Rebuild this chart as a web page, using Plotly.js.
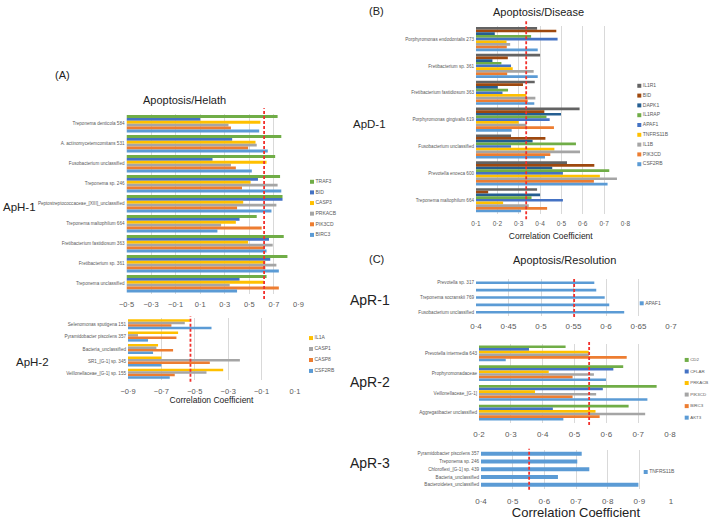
<!DOCTYPE html>
<html><head><meta charset="utf-8">
<script src="https://cdn.plot.ly/plotly-3.0.1.min.js"></script>
<style>html,body{margin:0;padding:0;background:#fff}#chart{width:709px;height:520px}</style>
</head><body><div id="chart"></div>
<script>
// ================= DATA =================
// (A) Apoptosis/Health  -- ApH-1
const aH1Taxa = ['Treponema denticola 584','A. actinomycetemcomitans 531','Fusobacterium unclassified','Treponema sp. 246','Peptostreptococcaceae_[XIII]_unclassified','Treponema maltophilum 664','Fretibacterium fastidiosum 363','Fretibacterium sp. 361','Treponema unclassified'];
const aH1Genes = ['TRAF3','BID','CASP3','PRKACB','PIK3CD','BIRC3'];
const aH1TRAF3  = [0.73, 0.76, 0.71, 0.75, 0.77, 0.56, 0.78, 0.81, 0.64];
const aH1BID    = [0.10, 0.36, 0.20, 0.57, 0.77, 0.42, 0.66, 0.67, 0.42];
const aH1CASP3  = [0.59, 0.55, 0.64, 0.51, 0.45, 0.39, 0.49, 0.63, 0.62];
const aH1PRKACB = [0.33, 0.56, 0.35, 0.73, 0.72, 0.27, 0.69, 0.72, 0.34];
const aH1PIK3CD = [0.35, 0.49, 0.39, 0.44, 0.40, 0.60, 0.62, 0.63, 0.74];
const aH1BIRC3  = [0.58, 0.65, 0.52, 0.76, 0.68, 0.24, 0.64, 0.74, 0.40];
const aH1Threshold = 0.62;
const aH1TickVals = [-0.5,-0.3,-0.1,0.1,0.3,0.5,0.7,0.9];
const aH1TickText = ['\u22120\u00b75','\u22120\u00b73','\u22120\u00b71','0\u00b71','0\u00b73','0\u00b75','0\u00b77','0\u00b79'];

// ApH-2
const aH2Taxa = ['Selenomonas sputigena 151','Pyramidobacter piscolens 357','Bacteria_unclassified','SR1_[G-1] sp. 345','Veillonellaceae_[G-1] sp. 155'];
const aH2Genes = ['IL1A','CASP1','CASP8','CSF2RB'];
const aH2IL1A   = [-0.53, -0.60, -0.72, -0.70, -0.33];
const aH2CASP1  = [-0.56, -0.84, -0.73, -0.23, -0.43];
const aH2CASP8  = [-0.64, -0.61, -0.63, -0.41, -0.62];
const aH2CSF2RB = [-0.40, -0.78, -0.75, -0.70, -0.65];
const aH2Threshold = -0.526;
const aH2TickVals = [-0.9,-0.7,-0.5,-0.3,-0.1,0.1];
const aH2TickText = ['\u22120\u00b79','\u22120\u00b77','\u22120\u00b75','\u22120\u00b73','\u22120\u00b71','0\u00b71'];

// (B) Apoptosis/Disease -- ApD-1
const bD1Taxa = ['Porphyromonas endodontalis 273','Fretibacterium sp. 361','Fretibacterium fastidiosum 363','Porphyromonas gingivalis 619','Fusobacterium unclassified','Prevotella enoeca 600','Treponema maltophilum 664'];
const bD1Genes = ['IL1R1','BID','DAPK1','IL1RAP','APAF1','TNFRS11B','IL1B','PIK3CD','CSF2RB'];
const bD1IL1R1    = [0.386, 0.400, 0.375, 0.585, 0.264, 0.526, 0.386];
const bD1BID      = [0.476, 0.249, 0.320, 0.420, 0.425, 0.654, 0.157];
const bD1DAPK1    = [0.188, 0.177, 0.202, 0.498, 0.365, 0.457, 0.400];
const bD1IL1RAP   = [0.358, 0.219, 0.250, 0.430, 0.568, 0.724, 0.360];
const bD1APAF1    = [0.482, 0.264, 0.224, 0.445, 0.264, 0.507, 0.507];
const bD1TNFRS11B = [0.243, 0.272, 0.336, 0.300, 0.467, 0.680, 0.227];
const bD1IL1B     = [0.260, 0.370, 0.378, 0.336, 0.587, 0.760, 0.347];
const bD1PIK3CD   = [0.244, 0.246, 0.342, 0.465, 0.448, 0.652, 0.433];
const bD1CSF2RB   = [0.389, 0.389, 0.373, 0.267, 0.423, 0.716, 0.311];
const bD1Threshold = 0.335;
const bD1TickVals = [0.1,0.2,0.3,0.4,0.5,0.6,0.7,0.8];
const bD1TickText = ['0\u00b71','0\u00b72','0\u00b73','0\u00b74','0\u00b75','0\u00b76','0\u00b77','0\u00b78'];

// (C) Apoptosis/Resolution -- ApR-1
const cR1Taxa = ['Prevotella sp. 317','(unlabelled taxon 2)','Treponema socranskii 769','(unlabelled taxon 4)','Fusobacterium unclassified'];
const cR1ShownLabels = ['Prevotella sp. 317','','Treponema socranskii 769','','Fusobacterium unclassified'];
const cR1Genes = ['APAF1'];
const cR1APAF1 = [0.582, 0.585, 0.598, 0.605, 0.628];
const cR1Threshold = 0.551;
const cR1TickVals = [0.4,0.45,0.5,0.55,0.6,0.65,0.7];
const cR1TickText = ['0\u00b74','0\u00b745','0\u00b75','0\u00b755','0\u00b76','0\u00b765','0\u00b77'];

// ApR-2
const cR2Taxa = ['Prevotella intermedia 643','Prophyromonadaceae','Veillonellaceae_[G-1]','Aggregatibacter unclassified'];
const cR2Genes = ['CD2','CFLAR','PRKACB','PIK3CD','BIRC3','AKT3'];
const cR2CD2    = [0.472, 0.653, 0.758, 0.670];
const cR2CFLAR  = [0.357, 0.622, 0.589, 0.432];
const cR2PRKACB = [0.545, 0.419, 0.376, 0.566];
const cR2PIK3CD = [0.545, 0.561, 0.568, 0.722];
const cR2BIRC3  = [0.664, 0.494, 0.494, 0.579];
const cR2AKT3   = [0.284, 0.599, 0.729, 0.465];
const cR2Threshold = 0.546;
const cR2TickVals = [0.2,0.3,0.4,0.5,0.6,0.7,0.8];
const cR2TickText = ['0\u00b72','0\u00b73','0\u00b74','0\u00b75','0\u00b76','0\u00b77','0\u00b78'];

// ApR-3
const cR3Taxa = ['Pyramidobacter piscolens 357','Treponema sp. 246','Chloroflexi_[G-1] sp. 439','Bacteria_unclassified','Bacteroidetes_unclassified'];
const cR3Genes = ['TNFRS11B'];
const cR3TNFRS11B = [0.718, 0.704, 0.742, 0.643, 0.897];
const cR3Threshold = 0.552;
const cR3TickVals = [0.4,0.5,0.6,0.7,0.8,0.9,1];
const cR3TickText = ['0\u00b74','0\u00b75','0\u00b76','0\u00b77','0\u00b78','0\u00b79','1'];

// ================= STYLE =================
const FONT = 'Liberation Sans, Arial, Helvetica, sans-serif';
const TXT = '#595959';
const GRID = '#d9d9d9';
const RED = '#f2302c';
const C = {blue:'#5B9BD5', orange:'#ED7D31', gray:'#A5A5A5', yellow:'#FFC000', dblue:'#4472C4', green:'#70AD47',
           navy:'#255E91', brown:'#9E480E', dgray:'#636363'};
const W = 709, H = 520;
const fx = (a,b) => [a/W, b/W];
const fy = (top,bottom) => [1-bottom/H, 1-top/H];

const panels = [
  {taxa:aH1Taxa, labels:aH1Taxa, genes:aH1Genes, vals:[aH1TRAF3,aH1BID,aH1CASP3,aH1PRKACB,aH1PIK3CD,aH1BIRC3],
   colors:[C.green,C.dblue,C.yellow,C.gray,C.orange,C.blue], range:[-0.5,0.9], xpx:[126.5,298.5], ypx:[113.7,293.7],
   gap:0.13, tv:aH1TickVals, tt:aH1TickText, ts:7.5, tso:5, thr:aH1Threshold, legX:312, legY:[175.5,241.2], legFs:5},
  {taxa:aH2Taxa, labels:aH2Taxa, genes:aH2Genes, vals:[aH2IL1A,aH2CASP1,aH2CASP8,aH2CSF2RB],
   colors:[C.yellow,C.gray,C.orange,C.blue], range:[-0.9,0.1], xpx:[128,295], ypx:[318,380],
   gap:0.19, tv:aH2TickVals, tt:aH2TickText, ts:7.5, tso:5, thr:aH2Threshold, legX:311, legY:[332.9,376.1], legFs:5,
   title:'Correlation Coefficient', titleSize:8.5, standoff:2},
  {taxa:bD1Taxa, labels:bD1Taxa, genes:bD1Genes, vals:[bD1IL1R1,bD1BID,bD1DAPK1,bD1IL1RAP,bD1APAF1,bD1TNFRS11B,bD1IL1B,bD1PIK3CD,bD1CSF2RB],
   colors:[C.dgray,C.brown,C.navy,C.green,C.dblue,C.yellow,C.gray,C.orange,C.blue], range:[0.1,0.8], xpx:[476,625.5], ypx:[25.6,213.7],
   gap:0.1, tv:bD1TickVals, tt:bD1TickText, ts:6.5, tso:5, thr:bD1Threshold, legX:639.3, legY:[78.1,171.9], legFs:5,
   title:'Correlation Coefficient', titleSize:8.5, standoff:6},
  {taxa:cR1Taxa, labels:cR1ShownLabels, genes:cR1Genes, vals:[cR1APAF1],
   colors:[C.blue], range:[0.4,0.7], xpx:[476,671], ypx:[279,316],
   gap:0.65, tv:cR1TickVals, tt:cR1TickText, ts:8, tso:4, thr:cR1Threshold, legX:641.7, legY:[298,308.6], legFs:5},
  {taxa:cR2Taxa, labels:cR2Taxa, genes:cR2Genes, vals:[cR2CD2,cR2CFLAR,cR2PRKACB,cR2PIK3CD,cR2BIRC3,cR2AKT3],
   colors:[C.green,C.dblue,C.yellow,C.gray,C.orange,C.blue], range:[0.2,0.8], xpx:[479,670], ypx:[343.5,422.6],
   gap:0.2, tv:cR2TickVals, tt:cR2TickText, ts:8, tso:5, thr:cR2Threshold, legX:686.7, legY:[353.4,424.2], legFs:4.4},
  {taxa:cR3Taxa, labels:cR3Taxa, genes:cR3Genes, vals:[cR3TNFRS11B],
   colors:[C.blue], range:[0.4,1.0], xpx:[481,671], ypx:[449.8,488.6],
   gap:0.48, tv:cR3TickVals, tt:cR3TickText, ts:8, tso:6, thr:cR3Threshold, legX:645.7, legY:[466.7,477.3], legFs:5,
   title:'Correlation Coefficient', titleSize:13, standoff:5}
];

const traces = [];
const layout = {
  width:W, height:H, margin:{l:0,r:0,t:0,b:0}, showlegend:false, barmode:'overlay',
  paper_bgcolor:'#fff', plot_bgcolor:'rgba(0,0,0,0)', font:{family:FONT, color:TXT},
  shapes:[], annotations:[]
};

panels.forEach((p, i) => {
  const n = i + 1;
  const xa = n === 1 ? 'x' : 'x' + n, ya = n === 1 ? 'y' : 'y' + n;
  const base = p.range[0];
  const total = 1 - p.gap, w = total / p.genes.length;
  p.genes.forEach((g, k) => {
    traces.push({type:'bar', orientation:'h', name:g, y:p.taxa, x:p.vals[k].map(v => v - base), base:base,
      width:w, offset:-total/2 + k*w, marker:{color:p.colors[k], line:{width:0}}, xaxis:xa, yaxis:ya,
      customdata:p.vals[k], hovertemplate:g+': %{customdata}<extra></extra>'});
  });
  const xKey = n === 1 ? 'xaxis' : 'xaxis' + n, yKey = n === 1 ? 'yaxis' : 'yaxis' + n;
  layout[xKey] = {domain:fx(p.xpx[0], p.xpx[1]), range:p.range, anchor:ya, tickmode:'array', tickvals:p.tv, ticktext:p.tt,
    tickfont:{size:p.ts, color:TXT}, ticklabelstandoff:p.tso, showgrid:true, gridcolor:GRID, gridwidth:1,
    zeroline:false, showline:false, ticks:'', fixedrange:true};
  if (p.title) layout[xKey].title = {text:p.title, font:{size:p.titleSize, color:'#222'}, standoff:p.standoff};
  layout[yKey] = {domain:fy(p.ypx[0], p.ypx[1]), anchor:xa, type:'category', categoryorder:'array', categoryarray:p.taxa,
    autorange:'reversed', tickmode:'array', tickvals:p.taxa, ticktext:p.labels, tickfont:{size:4.6, color:TXT},
    showgrid:false, zeroline:false, showline:false, ticks:'', ticklabelstandoff:1, fixedrange:true};
  layout.shapes.push({type:'line', xref:xa, yref:ya + ' domain', x0:p.thr, x1:p.thr, y0:-0.03, y1:1.03,
    line:{color:RED, width:1.8, dash:'3px,2px'}});

  // legend drawn as a small scatter (names + colours)
  const ln = n + 6;
  const lxa = 'x' + ln, lya = 'y' + ln;
  traces.push({type:'scatter', mode:'markers+text', x:p.genes.map(() => 0), y:p.genes, text:p.genes,
    textposition:'middle right', textfont:{size:p.legFs, color:TXT, family:FONT},
    marker:{symbol:'square', size:4, color:p.colors}, xaxis:lxa, yaxis:lya, cliponaxis:false, hoverinfo:'skip'});
  layout['xaxis' + ln] = {domain:fx(p.legX, Math.min(p.legX + 40, W)), range:[0,1], visible:false, anchor:lya, fixedrange:true};
  layout['yaxis' + ln] = {domain:fy(p.legY[0], p.legY[1]), type:'category', categoryorder:'array', categoryarray:p.genes,
    autorange:'reversed', visible:false, anchor:lxa, fixedrange:true};
});

const ann = (text, x, y, size, extra) => Object.assign({text, x:x/W, y:1-y/H, xref:'paper', yref:'paper',
  showarrow:false, xanchor:'center', yanchor:'middle', font:{size, color:'#222', family:FONT}}, extra || {});
layout.annotations.push(
  ann('(A)', 62, 75, 11),
  ann('Apoptosis/Helath', 184, 100, 11),
  ann('ApH-1', 19, 207, 11.5),
  ann('ApH-2', 32, 362, 11.5),
  ann('(B)', 377, 11, 11),
  ann('Apoptosis/Disease', 538, 12, 11),
  ann('ApD-1', 369, 124, 11.5),
  ann('(C)', 377, 259, 11),
  ann('Apoptosis/Resolution', 564, 260, 11),
  ann('ApR-1', 370, 300, 14),
  ann('ApR-2', 370, 382, 14),
  ann('ApR-3', 370, 463, 14)
);

Plotly.newPlot('chart', traces, layout, {staticPlot:true, displayModeBar:false});
</script>
</body></html>
